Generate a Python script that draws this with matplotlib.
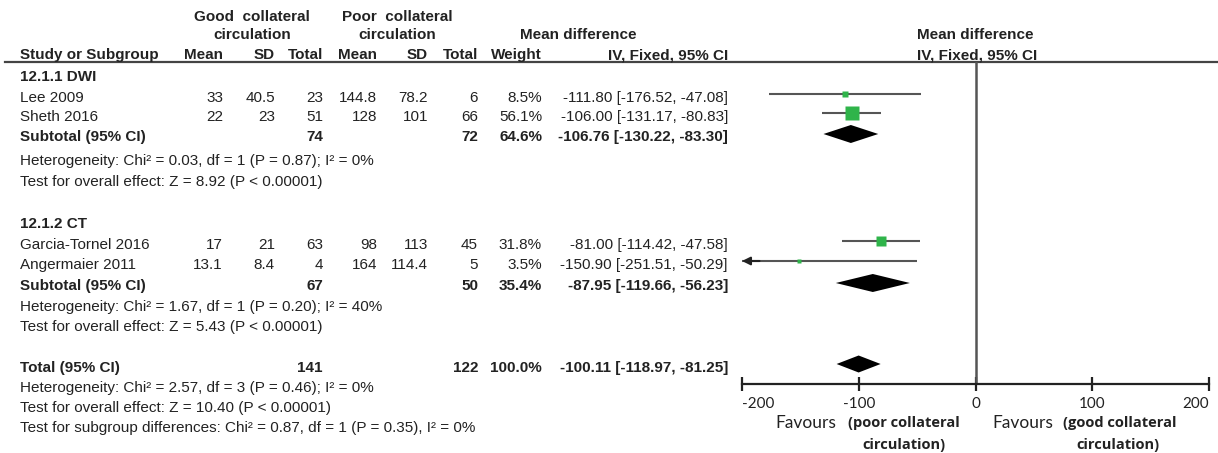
import matplotlib.pyplot as plt
import numpy as np

# study level data
studies = ["Lee 2009", "Sheth 2016", "Garcia-Tornel 2016", "Angermaier 2011"]
good_mean = [33, 22, 17, 13.1]
good_sd = [40.5, 23, 21, 8.4]
good_n = [23, 51, 63, 4]
poor_mean = [144.8, 128, 98, 164]
poor_sd = [78.2, 101, 113, 114.4]
poor_n = [6, 66, 45, 5]
weight = [8.5, 56.1, 31.8, 3.5]
md = [-111.80, -106.00, -81.00, -150.90]
ci_lo = [-176.52, -131.17, -114.42, -251.51]
ci_hi = [-47.08, -80.83, -47.58, -50.29]

# subgroups
sub_names = ["12.1.1 DWI", "12.1.2 CT"]
sub_good_n = [74, 67]
sub_poor_n = [72, 50]
sub_weight = [64.6, 35.4]
sub_md = [-106.76, -87.95]
sub_lo = [-130.22, -119.66]
sub_hi = [-83.30, -56.23]
sub_het = ["Heterogeneity: Chi² = 0.03, df = 1 (P = 0.87); I² = 0%",
           "Heterogeneity: Chi² = 1.67, df = 1 (P = 0.20); I² = 40%"]
sub_z = ["Test for overall effect: Z = 8.92 (P < 0.00001)",
         "Test for overall effect: Z = 5.43 (P < 0.00001)"]

# overall
tot_good_n = 141
tot_poor_n = 122
tot_weight = 100.0
tot_md = -100.11
tot_lo = -118.97
tot_hi = -81.25
tot_lines = ["Heterogeneity: Chi² = 2.57, df = 3 (P = 0.46); I² = 0%",
             "Test for overall effect: Z = 10.40 (P < 0.00001)",
             "Test for subgroup differences: Chi² = 0.87, df = 1 (P = 0.35), I² = 0%"]

xticks = [-200, -100, 0, 100, 200]

W, H = 1218, 453
plt.rcParams['font.family'] = ['Liberation Sans', 'DejaVu Sans']
fig = plt.figure(figsize=(W / 100, H / 100), dpi=100)

# text layer in pixel units
tx = fig.add_axes([0, 0, 1, 1])
tx.set_xlim(0, W)
tx.set_ylim(H, 0)
tx.axis('off')

TC = '#222222'
FS = 11


def put(x, y, s, ha='right', bold=False, size=FS):
    tx.text(x, y, s, ha=ha, va='center', fontsize=size, color=TC,
            fontweight='bold' if bold else 'normal')


# columns (right edges)
cx = dict(gm=223, gs=275, gn=323, pm=377, ps=428, pn=478, w=542, ci=728)

# header
put(252, 17, "Good  collateral", ha='center', bold=True)
put(252, 35, "circulation", ha='center', bold=True)
put(397, 17, "Poor  collateral", ha='center', bold=True)
put(397, 35, "circulation", ha='center', bold=True)
put(578, 35, "Mean difference", ha='center', bold=True)
put(917, 35, "Mean difference", ha='left', bold=True)
put(917, 55, "IV, Fixed, 95% CI", ha='left', bold=True)
put(20, 55, "Study or Subgroup", ha='left', bold=True)
for k, s in [('gm', 'Mean'), ('gs', 'SD'), ('gn', 'Total'), ('pm', 'Mean'),
             ('ps', 'SD'), ('pn', 'Total'), ('w', 'Weight'), ('ci', 'IV, Fixed, 95% CI')]:
    put(cx[k], 55, s, bold=True)
tx.plot([5, W], [62, 62], color='#444444', lw=1.6)

# row layout (pixel y of each text row)
group_rows = [dict(title=77, rows=[98, 117], sub=137, het=161, z=182),
              dict(title=224, rows=[245, 265], sub=286, het=307, z=327)]
tot_row = 368
tot_text_rows = [388, 408, 428]

# forest plot axes, y in the same pixel units
x0, x1 = 742, 1209
ytop, ybot = 62, 384
fx = fig.add_axes([x0 / W, 1 - ybot / H, (x1 - x0) / W, (ybot - ytop) / H])
fx.set_xlim(-200, 200)
fx.set_ylim(ybot, ytop)
fx.patch.set_alpha(0)
for s in ['top', 'left', 'right']:
    fx.spines[s].set_visible(False)
fx.spines['bottom'].set_linewidth(1.6)
fx.spines['bottom'].set_color('#222222')
fx.set_yticks([])
fx.set_xticks(xticks)
labs = fx.set_xticklabels([str(t) for t in xticks], family='Lato', fontsize=11, color=TC)
labs[0].set_ha('left')
labs[-1].set_ha('right')
fx.tick_params(axis='x', direction='inout', length=10, width=1.6, pad=4, color='#222222')
fx.axvline(0, color='#555555', lw=1.8)


def diamond(ax, c, lo, hi, y, h):
    ax.fill([lo, c, hi, c], [y, y - h, y, y + h], color='black', lw=0)


i = 0
for g in range(2):
    L = group_rows[g]
    put(20, L['title'], sub_names[g], ha='left', bold=True)
    for r, y in enumerate(L['rows']):
        put(20, y, studies[i], ha='left')
        put(cx['gm'], y, f"{good_mean[i]:g}")
        put(cx['gs'], y, f"{good_sd[i]:g}")
        put(cx['gn'], y, f"{good_n[i]}")
        put(cx['pm'], y, f"{poor_mean[i]:g}")
        put(cx['ps'], y, f"{poor_sd[i]:g}")
        put(cx['pn'], y, f"{poor_n[i]}")
        put(cx['w'], y, f"{weight[i]:.1f}%")
        put(cx['ci'], y, f"{md[i]:.2f} [{ci_lo[i]:.2f}, {ci_hi[i]:.2f}]")

        ym = y - 4
        lo = max(ci_lo[i], -200)
        fx.plot([lo, ci_hi[i]], [ym, ym], color='#555555', lw=1.5, solid_capstyle='butt')
        if ci_lo[i] < -200:
            fx.annotate('', xy=(-200, ym), xytext=(-185, ym),
                        arrowprops=dict(arrowstyle='-|>', color='#222222', lw=1.5,
                                        mutation_scale=12, shrinkA=0, shrinkB=0))
        side = 1.9 * np.sqrt(weight[i])
        fx.plot(md[i], ym, marker='s', ms=side * 0.72, color='#2fb44a', mec='none')
        i += 1
    put(20, L['sub'], "Subtotal (95% CI)", ha='left', bold=True)
    put(cx['gn'], L['sub'], f"{sub_good_n[g]}", bold=True)
    put(cx['pn'], L['sub'], f"{sub_poor_n[g]}", bold=True)
    put(cx['w'], L['sub'], f"{sub_weight[g]:.1f}%", bold=True)
    put(cx['ci'], L['sub'], f"{sub_md[g]:.2f} [{sub_lo[g]:.2f}, {sub_hi[g]:.2f}]", bold=True)
    diamond(fx, sub_md[g], sub_lo[g], sub_hi[g], L['sub'] - 3, 9)
    put(20, L['het'], sub_het[g], ha='left')
    put(20, L['z'], sub_z[g], ha='left')

put(20, tot_row, "Total (95% CI)", ha='left', bold=True)
put(cx['gn'], tot_row, f"{tot_good_n}", bold=True)
put(cx['pn'], tot_row, f"{tot_poor_n}", bold=True)
put(cx['w'], tot_row, f"{tot_weight:.1f}%", bold=True)
put(cx['ci'], tot_row, f"{tot_md:.2f} [{tot_lo:.2f}, {tot_hi:.2f}]", bold=True)
diamond(fx, tot_md, tot_lo, tot_hi, tot_row - 4, 8.5)
for y, s in zip(tot_text_rows, tot_lines):
    put(20, y, s, ha='left')

# favours labels
tx.text(775, 423, "Favours", ha='left', va='center', fontsize=12.5, color=TC, family='Lato')
tx.text(848, 423, "(poor collateral", ha='left', va='center', fontsize=10.5, color=TC,
        family='Open Sans', fontweight='bold')
tx.text(904, 445, "circulation)", ha='center', va='center', fontsize=10.5, color=TC,
        family='Open Sans', fontweight='bold')
tx.text(992, 423, "Favours", ha='left', va='center', fontsize=12.5, color=TC, family='Lato')
tx.text(1063, 423, "(good collateral", ha='left', va='center', fontsize=10.5, color=TC,
        family='Open Sans', fontweight='bold')
tx.text(1118, 445, "circulation)", ha='center', va='center', fontsize=10.5, color=TC,
        family='Open Sans', fontweight='bold')

fig.savefig("out.png", dpi=100)
